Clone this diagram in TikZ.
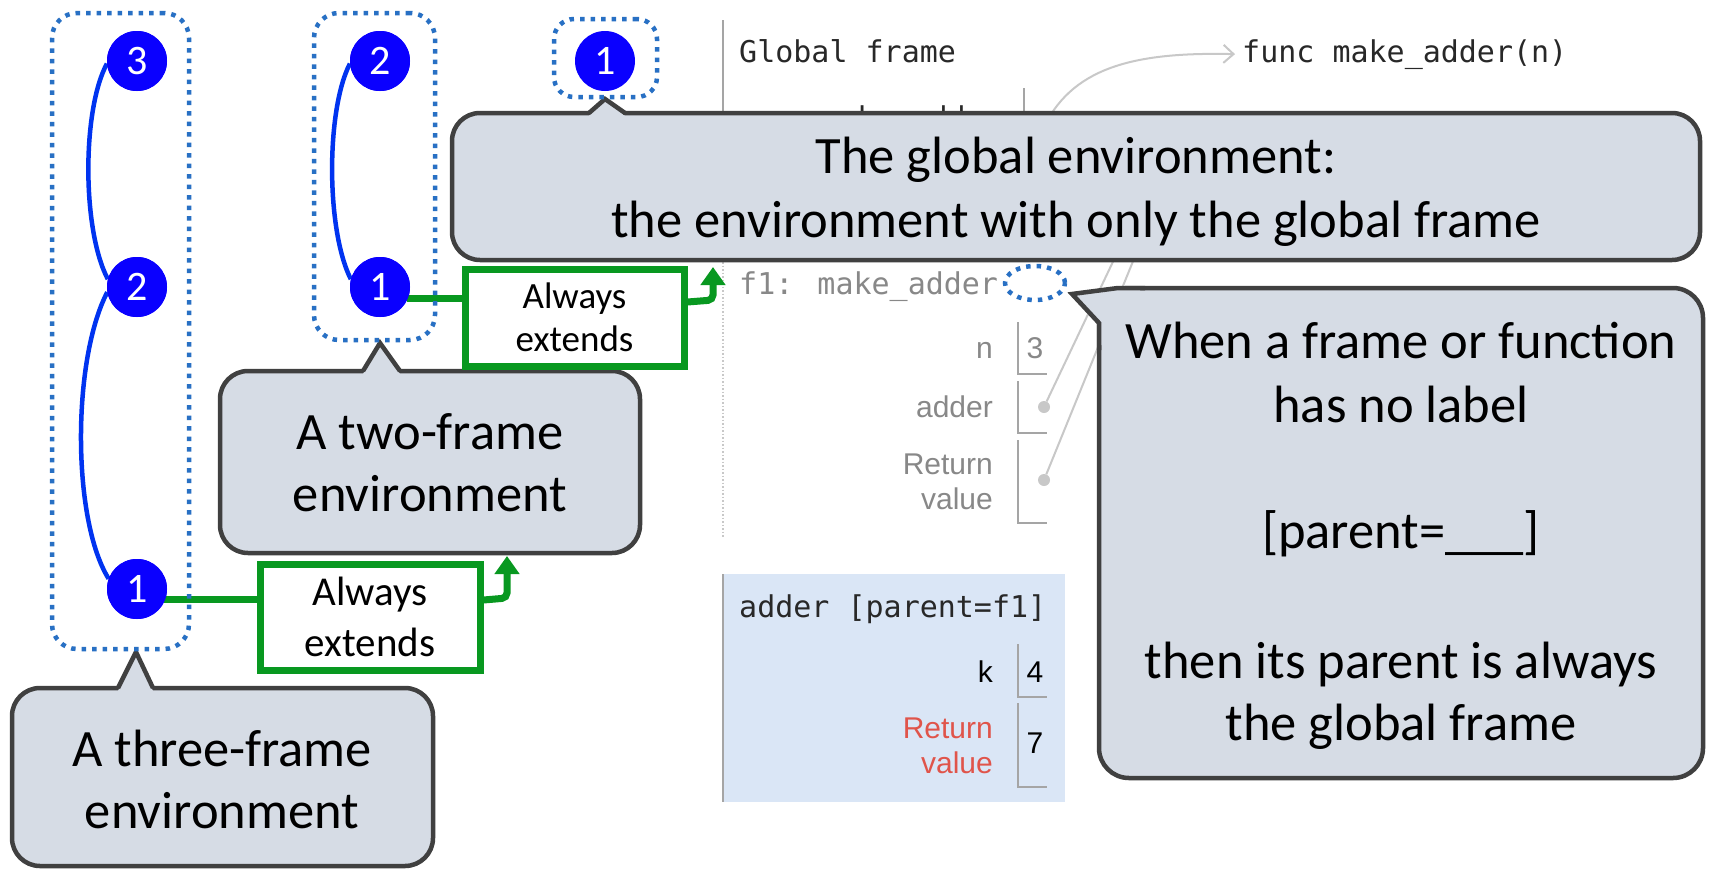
\documentclass[tikz,border=0pt]{standalone}
\usepackage{fontspec}
\setmainfont{Carlito}
\newfontfamily\monof{DejaVu Sans Mono}
\newfontfamily\labf{Liberation Sans}
\usetikzlibrary{arrows.meta,calc,shapes.geometric}
\definecolor{cfill}{RGB}{214,220,229}
\definecolor{cline}{RGB}{64,64,64}
\definecolor{dotblue}{RGB}{40,112,196}
\definecolor{circblue}{RGB}{10,0,255}
\definecolor{curveblue}{RGB}{0,51,240}
\definecolor{gr}{RGB}{8,152,32}
\definecolor{ptgray}{RGB}{136,136,136}
\definecolor{ptdark}{RGB}{40,40,40}
\definecolor{ptline}{RGB}{165,165,165}
\definecolor{ptlight}{RGB}{200,200,200}
\definecolor{framebg}{RGB}{218,230,246}
\definecolor{retred}{RGB}{224,84,74}
\begin{document}
\begin{tikzpicture}[x=1pt,y=-1pt,
  callout/.style={draw=cline, fill=cfill, line width=4.5pt, rounded corners=28pt, inner sep=0pt, rectangle},
  ptrline/.style={draw=cline, line width=4.5pt, line join=miter},
  ctext/.style={font=\fontsize{52.5}{63}\selectfont, anchor=base, inner sep=0pt},
  envdot/.style={draw=dotblue, line width=4.5pt, dash pattern=on 4.5pt off 6pt, rounded corners=25pt, inner sep=0pt, rectangle},
  frameno/.style={circle, fill=circblue, minimum size=60pt, inner sep=0pt, text=white, font=\fontsize{42}{42}\selectfont},
  parentlink/.style={draw=curveblue, line width=4.5pt},
  gbox/.style={draw=gr, fill=white, line width=7pt, inner sep=0pt, rectangle, align=center},
  gline/.style={draw=gr, line width=7pt},
  garrow/.style={draw=gr, line width=7pt, rounded corners=5pt, -{Triangle[length=18pt,width=24pt]}},
  mono/.style={font=\monof\fontsize{30}{30}\selectfont, inner sep=0pt},
  lab/.style={font=\labf\fontsize{30}{35}\selectfont, inner sep=0pt},
  boxline/.style={draw=ptline, line width=2pt},
  ptr/.style={draw=ptlight, line width=2pt},
  dotv/.style={circle, fill=ptlight, minimum size=12pt, inner sep=0pt},
]
\useasboundingbox (0,0) rectangle (1710,870);
\fill[white] (0,0) rectangle (1710,870);

% ---------------- Python Tutor background ----------------
\draw[draw=ptline, line width=2.5pt] (723,20) -- (723,262);
\draw[draw=ptlight, line width=2pt, dash pattern=on 1.5pt off 2pt] (723,262) -- (723,538);
\node[mono, anchor=base west, text=ptdark] (gf) at (739,62) {Global frame};
\node[mono, anchor=base east, text=ptdark] (mk) at (1002,128) {make\_adder};
\draw[boxline] (1024,88) -- (1024,160);
\coordinate (mkdot) at (1045,125);
\node[mono, anchor=base west, text=ptdark] (fn) at (1242,62) {func make\_adder(n)};
\draw[ptr, -{Straight Barb[length=10pt,width=18pt]}] (mkdot) .. controls (1075,65) and (1140,52) .. ($(fn.west)+(-7,0)$);

\node[mono, anchor=base west, text=ptgray] (f1) at (739,294) {f1: make\_adder};
\node[lab, anchor=base east, text=ptgray] (ln) at (993,358) {n};
\node[lab, anchor=base, text=ptgray] (vn) at (1035,358) {3};
\draw[boxline] (1018,322) -- (1018,374) -- (1047,374);
\node[lab, anchor=base east, text=ptgray] (la) at (993,417) {adder};
\draw[boxline] (1018,381) -- (1018,433) -- (1047,433);
\node[dotv] (da) at (1044,407) {};
\node[lab, anchor=base east, text=ptgray] (lr1) at (993,474) {Return};
\node[lab, anchor=base east, text=ptgray] (lr2) at (993,509) {value};
\draw[boxline] (1018,440) -- (1018,523) -- (1047,523);
\node[dotv] (dr) at (1044,480) {};
\coordinate (hidA) at (1147,190);
\coordinate (hidB) at (1162,190);
\draw[ptr] (da) -- (hidA);
\draw[ptr] (dr) -- (hidB);

\fill[framebg] (722,574) rectangle (1065,802);
\draw[draw=ptline, line width=2.5pt] (723,574) -- (723,802);
\node[mono, anchor=base west, text=ptdark] (af) at (739,617) {adder [parent=f1]};
\node[lab, anchor=base east, text=black] (lk) at (993,682) {k};
\node[lab, anchor=base, text=black] (vk) at (1035,682) {4};
\draw[boxline] (1018,644) -- (1018,697) -- (1047,697);
\node[lab, anchor=base east, text=retred] (ar1) at (993,738) {Return};
\node[lab, anchor=base east, text=retred] (ar2) at (993,773) {value};
\node[lab, anchor=base, text=black] (v7) at (1035,753) {7};
\draw[boxline] (1018,703) -- (1018,787) -- (1047,787);

\node[draw=dotblue, line width=4.5pt, dash pattern=on 4.5pt off 6pt, ellipse, minimum width=60pt, minimum height=34pt, inner sep=0pt] (nolab) at (1035,283) {};

% ---------------- Callouts ----------------
% global
\node[callout, minimum width=1248pt, minimum height=147pt] (gcall) at (1076,186.5) {};
\fill[cfill] (589,116) -- (605,99) -- (625,116) -- cycle;
\draw[ptrline] (589,113) -- (605,99) -- (625,113);
\node[ctext] (g1) at (1076,173) {The global environment:};
\node[ctext] (g2) at (1076,237) {the environment with only the global frame};

% two-frame
\node[callout, minimum width=420pt, minimum height=182pt] (tcall) at (430,462) {};
\fill[cfill] (363,374) -- (380,343) -- (400,374) -- cycle;
\draw[ptrline] (363,371) -- (380,343) -- (400,371);
\node[ctext] (t1) at (430,449) {A two-frame};
\node[ctext] (t2) at (430,511) {environment};

% three-frame
\node[callout, minimum width=421pt, minimum height=178pt] (hcall) at (222.5,777) {};
\fill[cfill] (118,691) -- (136,652) -- (153,691) -- cycle;
\draw[ptrline] (118,688) -- (136,652) -- (153,688);
\node[ctext] (h1) at (222,766) {A three-frame};
\node[ctext] (h2) at (222,828) {environment};

% right
\node[callout, rounded corners=30pt, minimum width=604pt, minimum height=490pt] (rcall) at (1401,533) {};
\fill[cfill] (1099,345) -- (1099,323) -- (1072,294) -- (1118,288) -- (1140,288) -- (1140,296) -- (1106,345) -- cycle;
\draw[ptrline] (1099,350) -- (1099,323) -- (1072,294) -- (1118,288) -- (1145,288);
\node[ctext] (r1) at (1401,358) {When a frame or function};
\node[ctext] (r2) at (1401,422) {has no label};
\node[ctext] (r3) at (1401,548) {[parent=\_\_\_]};
\node[ctext] (r4) at (1401,678) {then its parent is always};
\node[ctext] (r5) at (1401,740) {the global frame};

% ---------------- Environments ----------------
\node[frameno] (c3) at (137,61) {3};
\node[frameno] (c2) at (137,287) {2};
\node[frameno] (c1) at (137,589) {1};
\node[frameno] (s2) at (380,61) {2};
\node[frameno] (s1) at (380,287) {1};
\node[frameno] (g0) at (605,61) {1};

% green extends
\node[gbox, minimum width=220pt, minimum height=106pt, font=\fontsize{41}{51}\selectfont] (box1) at (370,617) {Always\\extends};
\node[gbox, minimum width=219pt, minimum height=97pt, font=\fontsize{37}{43}\selectfont] (box2) at (574.5,317.5) {Always\\extends};
\draw[gline] ($(c1.center)+(27,10)$) -- ($(box1.west)+(0,-18)$);
\draw[gline] ($(s1.center)+(27,11)$) -- ($(box2.west)+(0,-19.5)$);
\coordinate (a1c) at (507,598);
\coordinate (a1t) at (507,556);
\coordinate (a2c) at (713,300);
\coordinate (a2t) at (713,267);
\draw[garrow] ($(box1.east)+(0,-17)$) -- (a1c) -- (a1t);
\draw[garrow] ($(box2.east)+(0,-15.5)$) -- (a2c) -- (a2t);

% parent links
\draw[parentlink] (c3.185) .. controls (82,110) and (82,230) .. (c2.165);
\draw[parentlink] (c2.190) .. controls (72,360) and (72,520) .. (c1.160);
\draw[parentlink] (s2.185) .. controls (326,110) and (326,230) .. (s1.165);
\node[frameno] at (c3) {3};
\node[frameno] at (c2) {2};
\node[frameno] at (c1) {1};
\node[frameno] at (s2) {2};
\node[frameno] at (s1) {1};

% dotted environment outlines
\node[envdot, minimum width=137pt, minimum height=636pt] (env3) at (120.5,331) {};
\node[envdot, minimum width=121pt, minimum height=327pt] (env2) at (374.5,176.5) {};
\node[envdot, rounded corners=20pt, minimum width=103pt, minimum height=78pt] (envg) at (605.5,58) {};
\end{tikzpicture}
\end{document}
